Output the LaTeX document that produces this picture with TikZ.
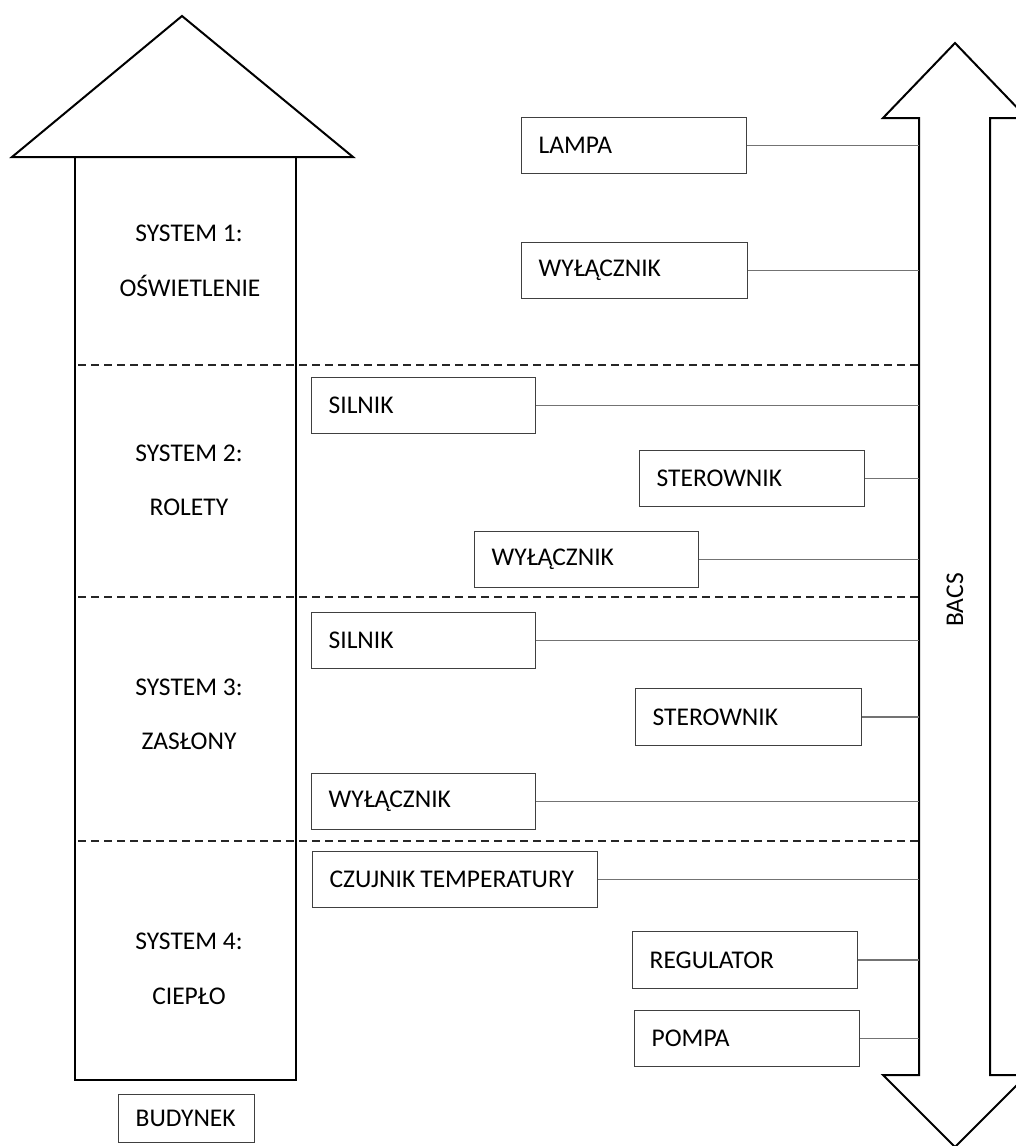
\documentclass[tikz,border=0pt]{standalone}
\usepackage{fontspec}
\setmainfont{Carlito}
\begin{document}
\begin{tikzpicture}[x=1pt,y=-1pt,
  outline/.style={draw=black,line width=2pt,line join=miter},
  device/.style={draw=black!75,line width=1.3pt,anchor=north west,
    minimum height=56pt,inner xsep=17pt,inner ysep=0pt,align=left,
    font=\fontsize{25.5}{30}\selectfont},
  wire/.style={draw=black!55,line width=1.6pt},
  divider/.style={draw=black!85,line width=1.3pt,dash pattern=on 8pt off 5pt},
  caption/.style={font=\fontsize{25.5}{30}\selectfont,inner sep=0pt}]
\useasboundingbox (0,0) rectangle (1016,1146);
\begin{scope}
\clip (0,0) rectangle (1016,1146);

% building with roof
\draw[outline] (12,157) -- (182,16) -- (353,157) -- cycle;
\draw[outline] (75,157) -- (75,1080) -- (296,1080) -- (296,157);

% BACS double arrow (bus)
\draw[outline] (919,1075) -- (919,118) -- (883,118) -- (955,43) -- (1027,118)
  -- (990,118) -- (990,1075) -- (1027,1075) -- (955,1147) -- (883,1075) -- cycle;
\coordinate (bus) at (919,0);
\node[caption,rotate=90] (bacs) at (955,600) {BACS};

% dividers between systems
\coordinate (d1l) at (78,365);  \coordinate (d1r) at (919,365);
\coordinate (d2l) at (78,597);  \coordinate (d2r) at (919,597);
\coordinate (d3l) at (78,841);  \coordinate (d3r) at (919,841);
\draw[divider] (d1l) -- (d1r);
\draw[divider] (d2l) -- (d2r);
\draw[divider] (d3l) -- (d3r);

% system captions
\node[caption] (s1a) at (189,233) {SYSTEM 1:};
\node[caption] (s1b) at (190,286) {OŚWIETLENIE};
\node[caption] (s2a) at (189,453) {SYSTEM 2:};
\node[caption] (s2b) at (189,507) {ROLETY};
\node[caption] (s3a) at (189,687) {SYSTEM 3:};
\node[caption] (s3b) at (189,741) {ZASŁONY};
\node[caption] (s4a) at (189,941) {SYSTEM 4:};
\node[caption] (s4b) at (189,996) {CIEPŁO};

\node[device,text width=102pt,minimum height=48pt,inner xsep=17pt] (bud) at (118,1094) {BUDYNEK};

% devices
\node[device,text width=191pt] (lampa) at (521,117) {LAMPA};
\node[device,text width=192pt] (wyl1) at (521,242) {WYŁĄCZNIK};
\node[device,text width=190pt] (sil2) at (311,377) {SILNIK};
\node[device,text width=191pt] (ster2) at (639,450) {STEROWNIK};
\node[device,text width=190pt] (wyl2) at (474,531) {WYŁĄCZNIK};
\node[device,text width=190pt] (sil3) at (311,612) {SILNIK};
\node[device,text width=192pt,minimum height=57pt] (ster3) at (635,688) {STEROWNIK};
\node[device,text width=190pt] (wyl3) at (311,773) {WYŁĄCZNIK};
\node[device,text width=251pt] (czuj) at (312,851) {\mbox{CZUJNIK\hspace{5pt}TEMPERATURY}};
\node[device,text width=191pt,minimum height=57pt] (reg) at (632,931) {REGULATOR};
\node[device,text width=191pt] (pompa) at (634,1010) {POMPA};

% connections to the bus
\foreach \n in {lampa,wyl1,sil2,ster2,wyl2,sil3,ster3,wyl3,czuj,reg,pompa}
  \draw[wire] (\n.east) -- (\n.east -| bus);
\end{scope}
\end{tikzpicture}
\end{document}
